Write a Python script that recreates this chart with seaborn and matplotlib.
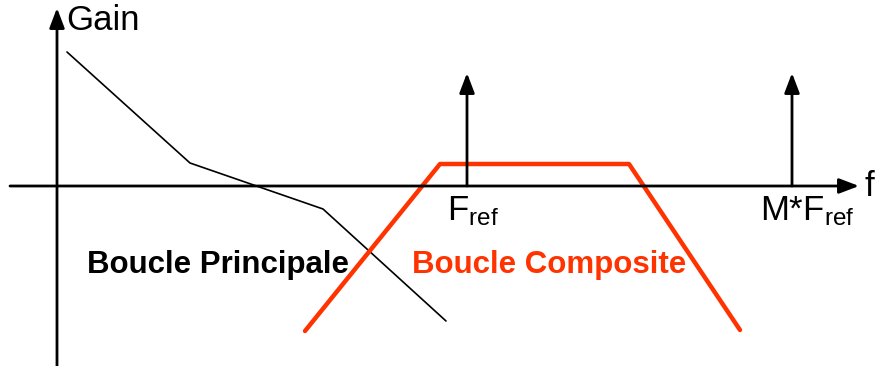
import matplotlib
matplotlib.use("Agg")
import matplotlib.pyplot as plt
import seaborn as sns
import pandas as pd

# Data (drawing units: x ~ frequency position, y ~ gain)
principal_x = [67, 190, 323, 446]
principal_y = [314, 203, 157, 45]
composite_x = [305, 440, 629, 740]
composite_y = [35, 202, 202, 36]
axis_y = 180
axis_x = 57
fref_x = 467
mfref_x = 792
spike_top = 293
labels = ["Boucle Principale", "Boucle Composite"]

sns.set_theme(style="white")
plt.rcParams['font.family'] = ['Liberation Sans', 'DejaVu Sans']
plt.rcParams['mathtext.fontset'] = 'custom'
plt.rcParams['mathtext.rm'] = 'Liberation Sans'
plt.rcParams['mathtext.it'] = 'Liberation Sans'
plt.rcParams['text.color'] = 'black'

fig = plt.figure(figsize=(8.78, 3.66), dpi=100)
ax = fig.add_axes([0, 0, 1, 1])
ax.set_xlim(0, 878)
ax.set_ylim(0, 366)
ax.axis('off')

df1 = pd.DataFrame({"x": principal_x, "y": principal_y})
df2 = pd.DataFrame({"x": composite_x, "y": composite_y})
sns.lineplot(data=df1, x="x", y="y", ax=ax, color="black", lw=1.2, sort=False)
sns.lineplot(data=df2, x="x", y="y", ax=ax, color="#FF3300", lw=3.2, sort=False)

arrow = dict(arrowstyle="-|>,head_length=1.0,head_width=0.38", color="black", lw=2, shrinkA=0, shrinkB=0)
# horizontal axis
ax.annotate("", xy=(859, axis_y), xytext=(10, axis_y), arrowprops=arrow)
# vertical axis
ax.annotate("", xy=(axis_x, 358), xytext=(axis_x, 0), arrowprops=arrow)
# spikes
ax.annotate("", xy=(fref_x, spike_top), xytext=(fref_x, axis_y), arrowprops=arrow)
ax.annotate("", xy=(mfref_x, spike_top), xytext=(mfref_x, axis_y), arrowprops=arrow)

ax.text(66, 346, "Gain", fontsize=25, color="black", ha="left", va="center")
ax.text(865, axis_y, "f", fontsize=25, color="black", ha="left", va="center")
ax.text(447, 172, r"F$_{\mathrm{ref}}$", fontsize=25, color="black", ha="left", va="top")
ax.text(760, 172, r"M*F$_{\mathrm{ref}}$", fontsize=25, color="black", ha="left", va="top")

ax.text(87, 101, labels[0], fontsize=22.5, fontweight="bold", color="black", ha="left", va="center")
ax.text(412, 101, labels[1], fontsize=22.5, fontweight="bold", color="#FF3300", ha="left", va="center")

fig.savefig("out.png", dpi=100)
